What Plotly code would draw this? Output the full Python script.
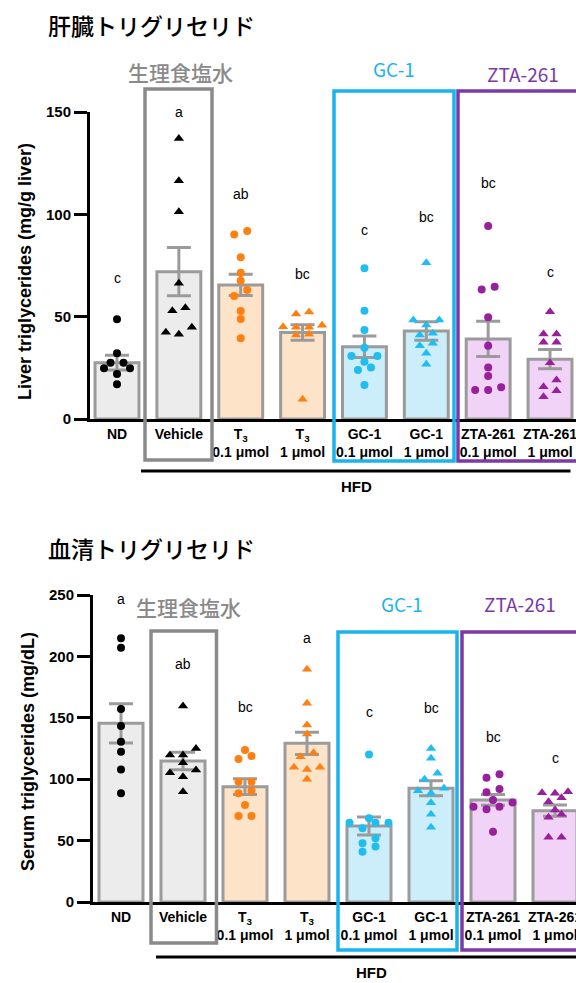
import plotly.graph_objects as go

W, H = 576, 983
LAT = "Liberation Sans, Arial, Helvetica, sans-serif"
JP = "Noto Sans CJK JP, Noto Sans CJK SC, sans-serif"

# ---------------- data ----------------
groups = ["ND", "Vehicle", "T3 0.1", "T3 1", "GC-1 0.1", "GC-1 1", "ZTA-261 0.1", "ZTA-261 1"]
tick_text = [
    "ND", "Vehicle",
    "T<sub>3</sub><br>0.1 μmol", "T<sub>3</sub><br>1 μmol",
    "GC-1<br>0.1 μmol", "GC-1<br>1 μmol",
    "ZTA-261<br>0.1 μmol", "ZTA-261<br>1 μmol",
]

liver_points = [
    [48.7, 32.1, 27.5, 27.5, 24.8, 24.8, 22.0, 17.0],
    [137.1, 116.4, 101.3, 66.3, 54.4, 52.9, 44.8, 42.4, 41.4],
    [91.8, 90.2, 79.0, 71.5, 67.6, 63.0, 60.1, 52.8, 48.9, 39.4],
    [52.3, 51.3, 45.8, 45.1, 44.8, 44.8, 41.4, 41.0, 9.6],
    [73.6, 52.9, 43.5, 34.8, 30.8, 30.8, 28.0, 25.2, 23.9, 16.6],
    [76.4, 48.4, 48.4, 45.9, 41.9, 41.0, 37.0, 35.8, 32.1, 26.7],
    [94.3, 64.6, 63.3, 49.7, 35.8, 25.2, 21.0, 15.5, 14.2, 14.2],
    [52.4, 41.5, 41.5, 37.5, 37.5, 27.5, 19.1, 15.8, 13.8, 10.9],
]
liver_means = [27.5, 72.0, 65.5, 42.3, 35.3, 43.0, 39.1, 29.2]
liver_sems = [3.6, 11.8, 5.2, 3.8, 5.3, 4.5, 8.6, 4.7]
liver_letters = ["c", "a", "ab", "bc", "c", "bc", "bc", "c"]
liver_letter_y = [69, 150, 110, 70.7, 92.3, 98.8, 115.1, 71.7]

serum_points = [
    [214.7, 207.1, 157.2, 143.3, 130.5, 122.4, 108.0, 88.5],
    [159.6, 125.1, 119.7, 119.7, 113.4, 107.5, 105.3, 102.0, 89.8],
    [123.8, 118.9, 116.4, 98.0, 98.0, 90.6, 88.5, 79.0, 70.0, 70.0],
    [189.5, 161.8, 144.1, 136.8, 121.6, 118.3, 109.7, 109.7, 108.0, 99.9],
    [120.2, 68.1, 64.6, 64.6, 64.6, 60.0, 51.9, 47.8, 45.1, 41.0],
    [125.1, 117.0, 104.8, 99.9, 92.6, 90.6, 88.5, 80.9, 71.4, 60.8],
    [104.0, 101.2, 92.0, 89.3, 83.1, 81.0, 77.6, 77.6, 75.5, 57.3],
    [89.8, 88.9, 88.5, 84.9, 81.7, 74.9, 71.5, 69.0, 52.7, 52.7],
]
serum_means = [145.5, 114.8, 93.9, 129.2, 61.9, 92.6, 83.1, 74.4]
serum_sems = [16.0, 7.2, 6.4, 9.0, 7.3, 6.1, 4.4, 4.5]
serum_letters = ["a", "ab", "bc", "a", "c", "bc", "bc", "c"]
serum_letter_y = [246.7, 193.8, 159.0, 215.2, 154.5, 157.7, 134.6, 117.0]

liver_ticks = [0, 50, 100, 150]
serum_ticks = [0, 50, 100, 150, 200, 250]

# ---------------- styles ----------------
dot_colors = ["#000000", "#000000", "#ff7f11", "#ff7f11", "#1fbdf0", "#1fbdf0", "#98209c", "#98209c"]
bar_fills = ["#ececec", "#ececec", "#fde3c8", "#fde3c8", "#ccedfa", "#ccedfa", "#f0d3f6", "#f0d3f6"]
symbols = ["circle", "triangle-up"] * 4
GRAY = "#9b9b9b"
SALINE = "#8a8a8a"
GC_COL = "#19b4ee"
ZTA_COL = "#7b3aa6"


def PX(x):
    return x / W


def PY(y):
    return 1 - y / H


def swarm_offsets(vals, px_per_unit, row_px=7.0, step_px=13.0):
    idx = sorted(range(len(vals)), key=lambda i: vals[i])
    rows = []
    for i in idx:
        if rows and (vals[i] - vals[rows[-1][0]]) * px_per_unit < row_px:
            rows[-1].append(i)
        else:
            rows.append([i])
    offs = [0.0] * len(vals)
    for row in rows:
        n = len(row)
        slots = [(k - (n - 1) / 2) * step_px for k in range(n)]
        slots.sort(key=lambda s: (abs(s), s))
        for i, s in zip(row, slots):
            offs[i] = s
    return offs


# panel geometry (pixels)
panels = [
    dict(xa="x", ya="y", xk="xaxis", yk="yaxis", c0=117, dx=61.86, left=90, ybot=419, ytop=112,
         ymax=150, pts=liver_points, means=liver_means, sems=liver_sems,
         letters=liver_letters, letter_y=liver_letter_y, ticks=liver_ticks,
         ytitle="Liver triglycerides (mg/g liver)", ytitle_pos=(25, 272)),
    dict(xa="x2", ya="y2", xk="xaxis2", yk="yaxis2", c0=121, dx=62.0, left=93, ybot=902, ytop=595,
         ymax=250, pts=serum_points, means=serum_means, sems=serum_sems,
         letters=serum_letters, letter_y=serum_letter_y, ticks=serum_ticks,
         ytitle="Serum triglycerides (mg/dL)", ytitle_pos=(28, 752)),
]

fig = go.Figure()
annotations = []
shapes = []
layout = {}

for p in panels:
    xr = [(p["left"] - p["c0"]) / p["dx"], (W - p["c0"]) / p["dx"]]
    ppu = (p["ybot"] - p["ytop"]) / p["ymax"]
    fig.add_trace(go.Bar(
        x=list(range(len(groups))), y=p["means"], width=0.71,
        marker=dict(color=bar_fills, line=dict(color=GRAY, width=3)),
        error_y=dict(type="data", array=p["sems"], color=GRAY, thickness=3, width=12),
        xaxis=p["xa"], yaxis=p["ya"], showlegend=False, hoverinfo="skip",
    ))
    for g, vals in enumerate(p["pts"]):
        offs = swarm_offsets(vals, ppu)
        fig.add_trace(go.Scatter(
            x=[g + o / p["dx"] for o in offs], y=vals, mode="markers",
            marker=dict(color=dot_colors[g], symbol=symbols[g],
                        size=8 if symbols[g] == "circle" else 9, line=dict(width=0)),
            xaxis=p["xa"], yaxis=p["ya"], showlegend=False, cliponaxis=False,
        ))
    layout[p["xk"]] = dict(
        domain=[p["left"] / W, 1], range=xr, anchor=p["ya"],
        showline=True, linewidth=3, linecolor="black", ticks="",
        tickvals=list(range(len(groups))), ticktext=tick_text,
        tickfont=dict(family=LAT, size=14, color="black", weight="bold"),
        ticklabeloverflow="allow", automargin=False,
        showgrid=False, zeroline=False, fixedrange=True,
    )
    layout[p["yk"]] = dict(
        domain=[PY(p["ybot"]), PY(p["ytop"])], range=[0, p["ymax"]], anchor=p["xa"],
        showline=True, linewidth=3, linecolor="black", ticks="outside", ticklen=13,
        tickwidth=3, tickcolor="black", tickvals=p["ticks"],
        tickfont=dict(family=LAT, size=15, color="black", weight="bold"),
        automargin=False, showgrid=False, zeroline=False, fixedrange=True,
    )
    for g, (t, yv) in enumerate(zip(p["letters"], p["letter_y"])):
        annotations.append(dict(x=g, y=yv, xref=p["xa"], yref=p["ya"], text=t, showarrow=False,
                                font=dict(family=LAT, size=14, color="black"),
                                xanchor="center", yanchor="middle"))
    tx, ty = p["ytitle_pos"]
    annotations.append(dict(x=PX(tx), y=PY(ty), xref="paper", yref="paper", text=p["ytitle"],
                            textangle=-90, showarrow=False,
                            font=dict(family=LAT, size=18, color="black", weight="bold"),
                            xanchor="center", yanchor="middle"))


def box(x0, y0, x1, y1, color):
    shapes.append(dict(type="rect", xref="paper", yref="paper", x0=PX(x0), x1=PX(x1),
                       y0=PY(y1), y1=PY(y0), line=dict(color=color, width=3.5),
                       fillcolor="rgba(0,0,0,0)", layer="above"))


def hline(x0, x1, y):
    shapes.append(dict(type="line", xref="paper", yref="paper", x0=PX(x0), x1=PX(x1),
                       y0=PY(y), y1=PY(y), line=dict(color="black", width=3)))


def label(x, y, text, size, color, family, weight="normal", xanchor="center"):
    annotations.append(dict(x=PX(x), y=PY(y), xref="paper", yref="paper", text=text,
                            showarrow=False, xanchor=xanchor, yanchor="middle",
                            font=dict(family=family, size=size, color=color, weight=weight)))


# top panel decorations
box(145, 89, 212, 460, SALINE)
box(334, 91, 454, 461, GC_COL)
box(458, 91, 610, 461, ZTA_COL)
hline(141, 570.5, 471)
label(356, 487, "HFD", 15, "black", LAT, "bold")
label(46, 25, "肝臓トリグリセリド", 23, "black", JP, weight=500, xanchor="left")
label(180, 72, "生理食塩水", 21, SALINE, JP, weight=500)
label(394, 68, "GC-1", 19, GC_COL, JP)
label(523, 73, "ZTA-261", 19, ZTA_COL, JP)

# bottom panel decorations
box(151, 631, 216.5, 943, SALINE)
box(338, 632, 457, 950, GC_COL)
box(462, 632, 610, 950, ZTA_COL)
hline(156, 576, 957)
label(371, 972, "HFD", 15, "black", LAT, "bold")
label(46, 548, "血清トリグリセリド", 23, "black", JP, weight=500, xanchor="left")
label(188, 607, "生理食塩水", 21, SALINE, JP, weight=500)
label(402, 603, "GC-1", 19, GC_COL, JP)
label(520, 603, "ZTA-261", 19, ZTA_COL, JP)

fig.update_layout(
    width=W, height=H, margin=dict(l=0, r=0, t=0, b=0, autoexpand=False),
    paper_bgcolor="white", plot_bgcolor="white",
    showlegend=False, bargap=0.3,
    annotations=annotations, shapes=shapes, **layout,
)

fig.write_html(
    "out.html",
    config={"displayModeBar": False},
    post_script="document.body.style.margin='0';document.body.style.overflow='hidden';",
)
